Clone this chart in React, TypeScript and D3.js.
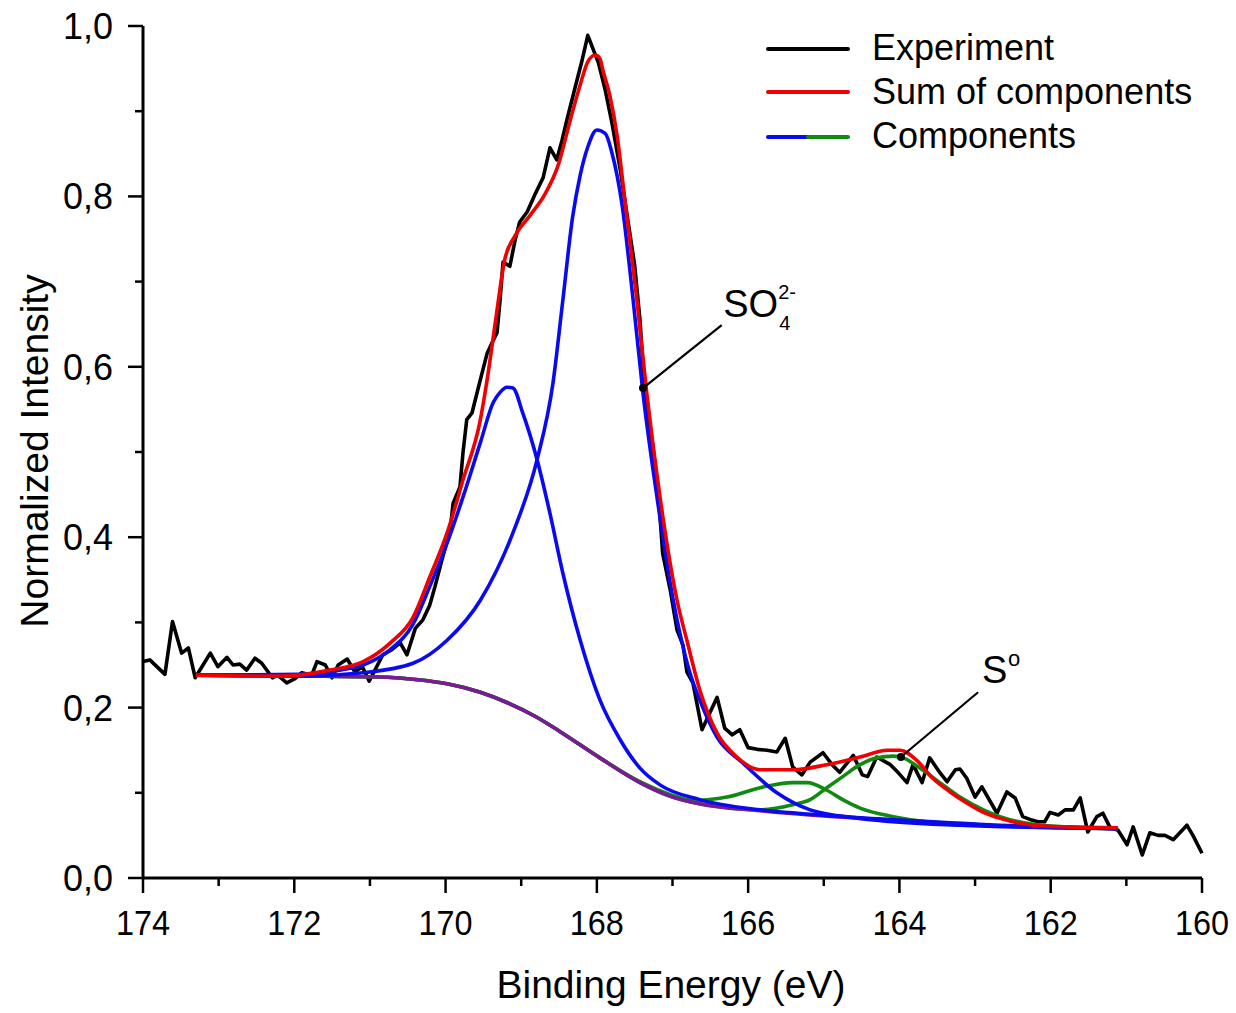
import React from "react";
import * as d3 from "d3";

// ---- Data ----
const expEnergy = [174.00,173.91,173.71,173.61,173.49,173.40,173.31,173.11,173.01,172.89,172.81,172.72,172.63,172.52,172.43,172.29,172.22,172.10,171.99,171.90,171.77,171.70,171.59,171.50,171.42,171.30,171.20,171.10,171.01,170.91,170.83,170.71,170.60,170.51,170.40,170.30,170.21,170.14,170.05,169.94,169.90,169.81,169.77,169.72,169.65,169.54,169.45,169.37,169.32,169.28,169.24,169.15,169.08,169.02,168.92,168.82,168.71,168.62,168.53,168.46,168.39,168.29,168.20,168.12,167.98,167.89,167.80,167.69,167.59,167.50,167.43,167.36,167.27,167.19,167.13,167.03,166.94,166.86,166.81,166.73,166.61,166.50,166.41,166.31,166.21,166.11,166.00,165.88,165.75,165.62,165.51,165.41,165.29,165.18,165.01,164.89,164.79,164.61,164.49,164.42,164.30,164.12,164.02,163.90,163.82,163.70,163.60,163.46,163.37,163.26,163.20,163.11,163.00,162.91,162.71,162.58,162.47,162.37,162.25,162.17,162.08,162.01,161.90,161.81,161.70,161.61,161.51,161.39,161.31,161.22,161.11,160.99,160.91,160.79,160.69,160.58,160.49,160.38,160.20,160.12,160.00];
const expIntensity = [0.254,0.256,0.239,0.301,0.264,0.270,0.235,0.264,0.248,0.259,0.250,0.251,0.244,0.258,0.252,0.235,0.238,0.229,0.234,0.241,0.238,0.254,0.250,0.235,0.250,0.257,0.242,0.248,0.231,0.248,0.262,0.268,0.276,0.262,0.293,0.303,0.320,0.342,0.373,0.408,0.440,0.459,0.499,0.538,0.546,0.585,0.616,0.631,0.640,0.678,0.723,0.718,0.749,0.770,0.782,0.802,0.822,0.857,0.843,0.866,0.892,0.927,0.958,0.989,0.957,0.925,0.886,0.831,0.772,0.719,0.655,0.561,0.514,0.455,0.381,0.338,0.291,0.273,0.242,0.229,0.174,0.195,0.212,0.176,0.168,0.174,0.153,0.151,0.150,0.148,0.164,0.130,0.121,0.136,0.147,0.133,0.124,0.144,0.121,0.119,0.142,0.133,0.124,0.112,0.133,0.112,0.141,0.123,0.113,0.127,0.128,0.117,0.095,0.107,0.076,0.101,0.094,0.072,0.068,0.066,0.066,0.077,0.074,0.080,0.080,0.094,0.054,0.072,0.076,0.060,0.056,0.039,0.060,0.027,0.053,0.050,0.050,0.045,0.062,0.050,0.029];

const sumEnergy = [173.30,172.19,171.53,171.09,170.73,170.43,170.21,169.98,169.77,169.54,169.45,169.33,169.22,169.08,168.88,168.69,168.51,168.35,168.22,168.12,168.02,167.96,167.92,167.83,167.73,167.63,167.47,167.34,167.16,166.94,166.81,166.64,166.41,166.15,165.84,165.41,164.96,164.52,164.16,163.99,163.77,163.56,163.33,163.11,162.89,162.67,162.23,161.78,161.11];
const sumIntensity = [0.238,0.237,0.244,0.254,0.276,0.306,0.353,0.405,0.467,0.538,0.585,0.660,0.725,0.754,0.778,0.802,0.837,0.890,0.931,0.958,0.966,0.962,0.948,0.919,0.870,0.796,0.678,0.569,0.444,0.326,0.279,0.221,0.170,0.142,0.127,0.127,0.133,0.142,0.150,0.150,0.138,0.117,0.101,0.088,0.077,0.070,0.062,0.060,0.059];

const comp1Energy = [173.30,171.92,171.40,171.09,170.73,170.43,170.21,169.98,169.77,169.54,169.37,169.28,169.19,169.11,168.98,168.79,168.62,168.45,168.22,167.96,167.69,167.43,167.16,166.64,165.84,165.05,163.99,162.67,161.11];
const comp1Intensity = [0.238,0.239,0.244,0.250,0.268,0.298,0.342,0.393,0.447,0.511,0.558,0.570,0.576,0.575,0.546,0.491,0.428,0.358,0.279,0.209,0.162,0.129,0.109,0.092,0.080,0.074,0.068,0.062,0.058];

const comp2Energy = [173.30,171.92,171.09,170.43,169.98,169.54,169.11,168.79,168.58,168.45,168.32,168.22,168.12,168.00,167.89,167.80,167.67,167.52,167.39,167.20,166.99,166.77,166.64,166.41,166.07,165.62,165.18,164.52,163.20,161.11];
const comp2Intensity = [0.238,0.237,0.241,0.252,0.279,0.326,0.405,0.491,0.581,0.678,0.776,0.825,0.858,0.878,0.874,0.851,0.792,0.678,0.569,0.444,0.326,0.241,0.209,0.165,0.135,0.100,0.080,0.070,0.062,0.058];

const comp3Energy = [173.30,171.92,170.87,170.40,169.98,169.54,169.19,168.80,168.49,167.96,167.43,167.00,166.73,166.28,165.84,165.41,165.22,164.96,164.75,164.52,164.08,163.64,163.20,162.67,161.12];
const comp3Intensity = [0.238,0.237,0.236,0.233,0.228,0.218,0.206,0.189,0.172,0.141,0.113,0.097,0.091,0.095,0.106,0.112,0.112,0.103,0.092,0.082,0.072,0.066,0.064,0.061,0.058];

const comp4Energy = [173.30,171.92,170.87,170.40,169.98,169.54,169.19,168.80,168.49,167.96,167.43,167.00,166.50,165.84,165.41,165.18,164.96,164.75,164.52,164.30,164.08,163.95,163.73,163.42,163.20,162.89,162.67,162.23,161.78,161.11];
const comp4Intensity = [0.238,0.237,0.236,0.233,0.228,0.218,0.206,0.189,0.172,0.141,0.112,0.095,0.085,0.080,0.086,0.092,0.106,0.119,0.133,0.141,0.143,0.141,0.129,0.109,0.095,0.080,0.072,0.063,0.060,0.058];

const bgEnergy = [173.30,171.92,170.87,170.40,169.98,169.54,169.19,168.80,168.49,167.96,167.43,167.00,166.64,165.84,164.52,163.20,162.67,161.11];
const bgIntensity = [0.238,0.237,0.236,0.233,0.228,0.218,0.206,0.189,0.172,0.141,0.112,0.095,0.087,0.079,0.070,0.063,0.061,0.058];

const xMajorTicks = [174,172,170,168,166,164,162,160];
const xMinorTicks = [173,171,169,167,165,163,161];
const yMajorTicks = [0,0.2,0.4,0.6,0.8,1.0];
const yMinorTicks = [0.1,0.3,0.5,0.7,0.9];

const legendLabels = ["Experiment","Sum of components","Components"];

// annotations: [dotEnergy, dotIntensity, lineEndEnergy, lineEndIntensity, textEnergy, textIntensity]
const so4Anno = [167.39, 0.575, 166.35, 0.649, 166.33, 0.658];
const s0Anno = [163.98, 0.142, 162.96, 0.218, 162.91, 0.229];

const W = 1236, H = 1013;
const x = d3.scaleLinear().domain([174, 160]).range([143, 1202]);
const y = d3.scaleLinear().domain([0, 1]).range([878, 26]);

const zip = (a: number[], b: number[]) => a.map((v, i) => [v, b[i]] as [number, number]);

const linear = d3.line<[number, number]>().x(d => x(d[0])).y(d => y(d[1]));
const smooth = d3.line<[number, number]>().x(d => x(d[0])).y(d => y(d[1])).curve(d3.curveMonotoneX);

const font = "'Liberation Sans', Arial, sans-serif";
const LW = 3.6;

export default function App() {
  const fmt = (v: number) => v.toFixed(1).replace(".", ",");
  return (
    <svg width={W} height={H} style={{ position: "absolute", left: 0, top: 0, background: "#fff" }} fontFamily={font}>
      <rect x={0} y={0} width={W} height={H} fill="#fff" />
      {/* data */}
      <path d={linear(zip(expEnergy, expIntensity)) || ""} fill="none" stroke="#000" strokeWidth={LW} strokeLinejoin="round" />
      <path d={smooth(zip(comp3Energy, comp3Intensity)) || ""} fill="none" stroke="#128a12" strokeWidth={LW} />
      <path d={smooth(zip(comp4Energy, comp4Intensity)) || ""} fill="none" stroke="#128a12" strokeWidth={LW} />
      <path d={smooth(zip(bgEnergy, bgIntensity)) || ""} fill="none" stroke="#7a1a96" strokeWidth={LW} />
      <path d={smooth(zip(comp1Energy, comp1Intensity)) || ""} fill="none" stroke="#0a0af0" strokeWidth={LW} />
      <path d={smooth(zip(comp2Energy, comp2Intensity)) || ""} fill="none" stroke="#0a0af0" strokeWidth={LW} />
      <path d={smooth(zip(sumEnergy, sumIntensity)) || ""} fill="none" stroke="#f00000" strokeWidth={LW} />

      {/* axes */}
      <line x1={x(174)} x2={x(174)} y1={y(1)} y2={y(0)} stroke="#000" strokeWidth={3} />
      <line x1={x(174)} x2={x(160)} y1={y(0)} y2={y(0)} stroke="#000" strokeWidth={3} />
      {xMajorTicks.map(t => (
        <g key={"xM" + t}>
          <line x1={x(t)} x2={x(t)} y1={y(0)} y2={y(0) + 15} stroke="#000" strokeWidth={2.5} />
          <text x={x(t)} y={935} textAnchor="middle" fontSize={36} transform={`translate(${x(t)},0) scale(0.9,1) translate(${-x(t)},0)`}>{t}</text>
        </g>
      ))}
      {xMinorTicks.map(t => (
        <line key={"xm" + t} x1={x(t)} x2={x(t)} y1={y(0)} y2={y(0) + 8} stroke="#000" strokeWidth={2.5} />
      ))}
      {yMajorTicks.map(t => (
        <g key={"yM" + t}>
          <line x1={x(174) - 15} x2={x(174)} y1={y(t)} y2={y(t)} stroke="#000" strokeWidth={2.5} />
          <text x={113} y={y(t) + 13} textAnchor="end" fontSize={36}>{fmt(t)}</text>
        </g>
      ))}
      {yMinorTicks.map(t => (
        <line key={"ym" + t} x1={x(174) - 8} x2={x(174)} y1={y(t)} y2={y(t)} stroke="#000" strokeWidth={2.5} />
      ))}
      <text x={671} y={998} textAnchor="middle" fontSize={39}>Binding Energy (eV)</text>
      <text transform="translate(48,451) rotate(-90)" textAnchor="middle" fontSize={39}>Normalized Intensity</text>

      {/* legend */}
      <line x1={768} x2={848} y1={49} y2={49} stroke="#000" strokeWidth={4} strokeLinecap="round" />
      <line x1={768} x2={848} y1={92} y2={92} stroke="#f00000" strokeWidth={4} strokeLinecap="round" />
      <line x1={768} x2={808} y1={137} y2={137} stroke="#0a0af0" strokeWidth={4} strokeLinecap="round" />
      <line x1={808} x2={848} y1={137} y2={137} stroke="#128a12" strokeWidth={4} strokeLinecap="round" />
      {legendLabels.map((l, i) => (
        <text key={l} x={872} y={60 + i * 44} fontSize={36}>{l}</text>
      ))}

      {/* annotations */}
      <line x1={x(so4Anno[0])} y1={y(so4Anno[1])} x2={x(so4Anno[2])} y2={y(so4Anno[3])} stroke="#000" strokeWidth={2.2} />
      <circle cx={x(so4Anno[0])} cy={y(so4Anno[1])} r={4} fill="#000" />
      <text x={x(so4Anno[4])} y={y(so4Anno[5])} fontSize={38}>SO</text>
      <text x={x(so4Anno[4]) + 56} y={y(so4Anno[5]) + 13} fontSize={20}>4</text>
      <text x={x(so4Anno[4]) + 55} y={y(so4Anno[5]) - 18} fontSize={20}>2-</text>
      <line x1={x(s0Anno[0])} y1={y(s0Anno[1])} x2={x(s0Anno[2])} y2={y(s0Anno[3])} stroke="#000" strokeWidth={2.2} />
      <circle cx={x(s0Anno[0])} cy={y(s0Anno[1])} r={4} fill="#000" />
      <text x={x(s0Anno[4])} y={y(s0Anno[5])} fontSize={38}>S</text>
      <text x={x(s0Anno[4]) + 26} y={y(s0Anno[5]) - 17} fontSize={22}>o</text>
    </svg>
  );
}
